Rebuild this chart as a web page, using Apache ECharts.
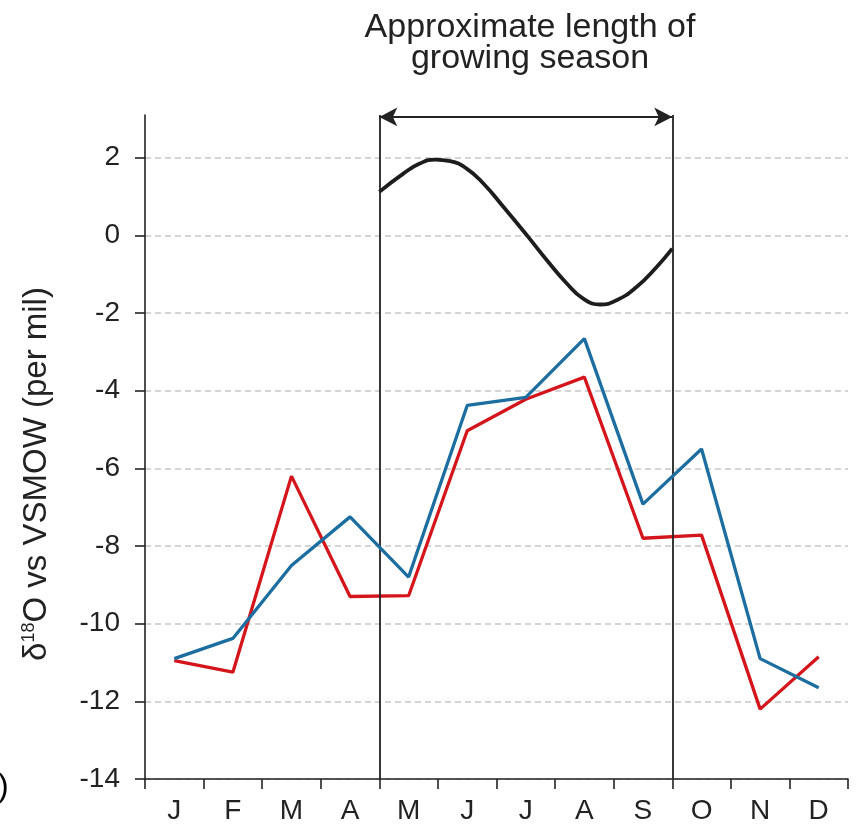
<!DOCTYPE html>
<html>
<head>
<meta charset="utf-8">
<title>Monthly δ18O</title>
<script src="https://cdn.jsdelivr.net/npm/echarts@6/dist/echarts.min.js"></script>
<style>
  html, body { margin: 0; padding: 0; background: #fff; }
  #chart { width: 857px; height: 826px; }
</style>
</head>
<body>
<div id="chart"></div>
<script>
// Month labels along the x axis
const months = ['J', 'F', 'M', 'A', 'M', 'J', 'J', 'A', 'S', 'O', 'N', 'D'];

// Monthly δ18O values (per mil vs VSMOW)
const redSeries  = [-10.95, -11.25, -6.2, -9.3, -9.28, -5.03, -4.22, -3.65, -7.8, -7.72, -12.2, -10.85];
const blueSeries = [-10.9, -10.38, -8.5, -7.25, -8.8, -4.38, -4.17, -2.66, -6.92, -5.5, -10.9, -11.65];

// Smooth curve across the growing season: [month position, value]
const seasonCurve = [
  [4.0, 1.12], [4.41, 1.59], [4.69, 1.85], [4.95, 1.95], [5.21, 1.91],
  [5.49, 1.72], [5.78, 1.33], [6.12, 0.73], [6.52, 0.0], [6.86, -0.64],
  [7.2, -1.24], [7.48, -1.63], [7.77, -1.78], [8.05, -1.67], [8.39, -1.33],
  [8.73, -0.82], [9.0, -0.34]
];

// Growing season bounds (month positions) and y-axis ticks
const seasonBounds = [4, 9];
const yTicks = [-14, -12, -10, -8, -6, -4, -2, 0, 2];
const yMin = -14, yMax = 3.1, arrowLevel = 3.05;

const FONT = '"Liberation Sans", Arial, Helvetica, sans-serif';
const INK = '#222';

const chart = echarts.init(document.getElementById('chart'), null, { renderer: 'canvas' });

chart.setOption({
  animation: false,
  backgroundColor: '#fff',
  grid: { left: 145, right: 9, top: 115, bottom: 47, containLabel: false },
  xAxis: [
    {
      type: 'category',
      data: months,
      boundaryGap: true,
      axisLine: { show: true, onZero: false, lineStyle: { color: INK, width: 1.6 } },
      axisTick: { show: true, inside: false, length: 10, alignWithLabel: false, lineStyle: { color: INK, width: 1.6 } },
      axisLabel: { margin: 18, fontSize: 28, fontFamily: FONT, color: INK },
      splitLine: { show: false }
    },
    {
      type: 'value',
      min: 0,
      max: 12,
      show: false
    }
  ],
  yAxis: {
    type: 'value',
    min: yMin,
    max: yMax,
    interval: 2,
    axisLine: { show: true, onZero: false, lineStyle: { color: INK, width: 1.6 } },
    axisTick: { show: true, inside: false, length: 10, customValues: yTicks, lineStyle: { color: INK, width: 1.6 } },
    axisLabel: { margin: 25, fontSize: 28, fontFamily: FONT, color: INK, customValues: yTicks },
    splitLine: { show: true, lineStyle: { color: '#c6c6c6', width: 1.5, type: [6, 4] } }
  },
  graphic: [
    {
      type: 'text',
      x: 530, y: 12,
      style: {
        text: 'Approximate length of\ngrowing season',
        fontSize: 34, fontFamily: FONT, fill: INK,
        align: 'center', verticalAlign: 'top', lineHeight: 31
      }
    },
    {
      type: 'text',
      x: 37, y: 474,
      rotation: Math.PI / 2,
      style: {
        text: '{a|δ}{s|18}{a|O vs VSMOW (per mil)}',
        rich: {
          a: { fontSize: 33, fontFamily: FONT, fill: INK },
          s: { fontSize: 18, fontFamily: FONT, fill: INK, verticalAlign: 'top' }
        },
        align: 'center', verticalAlign: 'middle'
      }
    },
    {
      type: 'text',
      x: -2, y: 787,
      style: { text: ')', fontSize: 32, fontFamily: FONT, fill: '#000', align: 'left', verticalAlign: 'middle' }
    }
  ],
  series: [
    {
      name: 'season',
      type: 'line',
      xAxisIndex: 1,
      data: seasonCurve,
      smooth: true,
      showSymbol: false,
      symbol: 'none',
      lineStyle: { color: '#1d1d1d', width: 3.8 },
      z: 3,
      markLine: {
        silent: true,
        animation: false,
        label: { show: false },
        emphasis: { disabled: true },
        data: [
          [
            { coord: [seasonBounds[0], yMin], symbol: 'none' },
            { coord: [seasonBounds[0], yMax], symbol: 'none' }
          ],
          [
            { coord: [seasonBounds[1], yMin], symbol: 'none' },
            { coord: [seasonBounds[1], yMax], symbol: 'none' }
          ],
          [
            { coord: [seasonBounds[0], arrowLevel], symbol: 'arrow', symbolSize: [14, 18] },
            { coord: [seasonBounds[1], arrowLevel], symbol: 'arrow', symbolSize: [14, 18] }
          ]
        ],
        lineStyle: { color: INK, width: 1.8, type: 'solid' }
      }
    },
    {
      name: 'red',
      type: 'line',
      data: redSeries,
      showSymbol: false,
      symbol: 'none',
      lineStyle: { color: '#d4161c', width: 3.3 },
      z: 4
    },
    {
      name: 'blue',
      type: 'line',
      data: blueSeries,
      showSymbol: false,
      symbol: 'none',
      lineStyle: { color: '#1c6ea0', width: 3.3 },
      z: 5
    }
  ]
});
</script>
</body>
</html>
